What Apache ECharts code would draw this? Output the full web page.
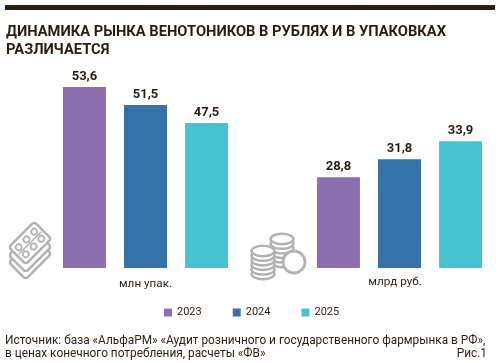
<!DOCTYPE html>
<html><head><meta charset="utf-8">
<style>html,body{margin:0;padding:0;background:#fff}#c{width:500px;height:363px}</style>
<script src="https://cdn.jsdelivr.net/npm/echarts@6/dist/echarts.min.js"></script>
</head><body><div id="c"></div>
<script>
const years = ['2023','2024','2025'];
const colors = ['#8b6fb0','#3572aa','#45c3d0'];
const packCategory = ['млн упак.'];
const rubCategory = ['млрд руб.'];
const packValues = [53.6, 51.5, 47.5];
const rubValues = [28.8, 31.8, 33.9];
const titleText = 'ДИНАМИКА РЫНКА ВЕНОТОНИКОВ В РУБЛЯХ И В УПАКОВКАХ\nРАЗЛИЧАЕТСЯ';
const sourceText = 'Источник: база «АльфаРМ» «Аудит розничного и государственного фармрынка в РФ»,\nв ценах конечного потребления, расчеты «ФВ»';
const figText = 'Рис.1';
const ink = '#2b1d10', gray = '#b2b2b2';
const font = 'Roboto';

function mkSeries(vals, idx){
  return vals.map((v,i)=>({
    type:'bar', name:years[i], data:[v], xAxisIndex:idx, yAxisIndex:idx,
    barWidth:43, barGap:'42%', silent:true,
    itemStyle:{color:colors[i]},
    label:{show:true, position:'top', distance:4, color:ink, fontFamily:font, fontWeight:'bold', fontSize:13,
      formatter:p=>String(p.value).replace('.',',')}
  }));
}
const stroke = {stroke:gray, lineWidth:2.5, fill:'#fff'};
const blisterRect = {type:'rect',x:-18,y:-12,shape:{width:36,height:24,r:3},style:stroke};
const pills = [[-11,-5],[0,-5],[11,-5],[-11,5],[0,5],[11,5]].map(p=>({type:'circle', shape:{cx:p[0],cy:p[1],r:3}, style:{stroke:gray,lineWidth:1.8,fill:'#fff'}}));
function coinStack(cx, top, n, rx){
  const out=[];
  for(let k=n-1;k>=0;k--) out.push({type:'ellipse', shape:{cx:cx,cy:top+k*4.6,rx:rx,ry:5.2}, style:stroke});
  return out;
}
const option = {
  animation:false,
  textStyle:{fontFamily:font},
  title:{text:titleText, left:1, top:18, textStyle:{fontFamily:font,fontWeight:'bold',fontSize:14.7,color:ink,lineHeight:18}},
  legend:{data:years, left:159, top:302, itemWidth:8, itemHeight:8, itemGap:31, icon:'rect', selectedMode:false,
    textStyle:{fontFamily:font,fontSize:11,color:ink}},
  grid:[{left:63,width:165,top:68,height:200},{left:317,width:165,top:68,height:200}],
  xAxis:[
    {type:'category',gridIndex:0,data:packCategory,axisLine:{show:false},axisTick:{show:false},
      axisLabel:{margin:10,color:ink,fontFamily:font,fontSize:11.7}},
    {type:'category',gridIndex:1,data:rubCategory,axisLine:{show:false},axisTick:{show:false},
      axisLabel:{margin:8,color:ink,fontFamily:font,fontSize:11.7,padding:[0,9,0,0]}}
  ],
  yAxis:[
    {type:'value',gridIndex:0,min:30.6,max:55.82,show:false,splitLine:{show:false},
      breaks:[{start:47.5,end:51.5,gap:2.1}],breakArea:{show:false}},
    {type:'value',gridIndex:1,min:18.24,max:42.42,show:false,splitLine:{show:false},
      breaks:[{start:28.8,end:31.8,gap:2.1}],breakArea:{show:false}}
  ],
  series:[...mkSeries(packValues,0),...mkSeries(rubValues,1)],
  graphic:[
    {type:'rect',shape:{x:5,y:5,width:490,height:5},style:{fill:ink}},
    {type:'text',x:5,y:334,style:{text:sourceText,fontFamily:font,fontSize:11.85,lineHeight:13.5,fill:ink}},
    {type:'text',x:487,y:347.5,style:{text:figText,fontFamily:font,fontSize:11.85,lineHeight:13.5,fill:ink,align:'right'}},
    {type:'group',x:30,y:258,rotation:Math.PI/4,children:[blisterRect]},
    {type:'group',x:30,y:251,rotation:Math.PI/4,children:[blisterRect]},
    {type:'group',x:30,y:243,rotation:Math.PI/4,children:[blisterRect,
      {type:'line',shape:{x1:-16,y1:0,x2:16,y2:0},style:{stroke:gray,lineWidth:1.5}},...pills]},
    ...coinStack(282,239,6,11.5),
    ...coinStack(263,251,6,11.5),
    {type:'circle',shape:{cx:294,cy:262,r:11},style:{stroke:gray,lineWidth:2.8,fill:'#fff'}}
  ]
};
echarts.init(document.getElementById('c'),null,{renderer:'canvas'}).setOption(option);
</script></body></html>
